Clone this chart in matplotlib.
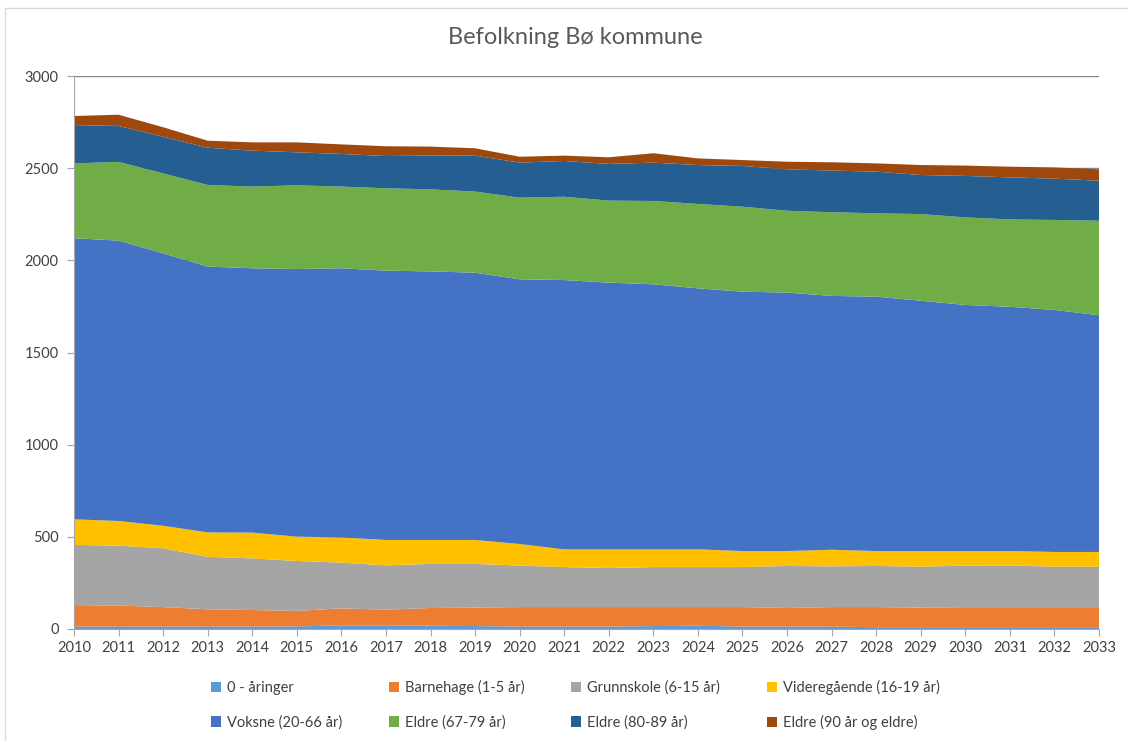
import matplotlib.pyplot as plt
import numpy as np
from matplotlib.patches import Patch, Rectangle

plt.rcParams['font.family'] = ['Lato', 'DejaVu Sans']

years = list(range(2010, 2034))

aaringer = [13, 13, 13, 13, 13, 14, 20, 20, 18, 16, 13, 13, 13, 16, 18, 13, 13, 13, 10, 10, 10, 10, 10, 10]
barnehage = [117, 114, 106, 94, 90, 84, 92, 85, 96, 100, 106, 106, 106, 103, 101, 106, 101, 106, 109, 106, 104, 104, 104, 104]
grunnskole = [326, 325, 319, 285, 280, 271, 248, 240, 239, 237, 225, 217, 212, 217, 217, 217, 228, 221, 223, 222, 230, 231, 224, 224]
videregaende = [139, 134, 122, 132, 140, 132, 137, 138, 130, 130, 117, 96, 101, 96, 96, 87, 81, 90, 81, 85, 79, 78, 80, 80]
voksne = [1525, 1521, 1478, 1442, 1434, 1452, 1460, 1461, 1457, 1450, 1436, 1461, 1447, 1438, 1416, 1407, 1402, 1377, 1380, 1358, 1335, 1325, 1313, 1284]
eldre_67 = [406, 427, 434, 443, 443, 454, 443, 447, 445, 440, 443, 452, 445, 452, 458, 461, 444, 454, 452, 470, 475, 474, 488, 513]
eldre_80 = [208, 195, 199, 202, 195, 179, 177, 175, 183, 195, 190, 194, 199, 208, 211, 221, 225, 226, 226, 212, 225, 228, 224, 217]
eldre_90 = [49, 61, 51, 38, 45, 54, 52, 53, 49, 40, 32, 29, 36, 51, 36, 32, 41, 45, 45, 54, 56, 58, 61, 62]

labels = ['0 - åringer', 'Barnehage (1-5 år)', 'Grunnskole (6-15 år)', 'Videregående (16-19 år)',
          'Voksne (20-66 år)', 'Eldre (67-79 år)', 'Eldre (80-89 år)', 'Eldre (90 år og eldre)']
colors = ['#5B9BD5', '#ED7D31', '#A5A5A5', '#FFC000', '#4472C4', '#70AD47', '#255E91', '#9E480E']

series = [aaringer, barnehage, grunnskole, videregaende, voksne, eldre_67, eldre_80, eldre_90]

fig = plt.figure(figsize=(11.28, 7.41), dpi=100)
ax = fig.add_axes([74 / 1128, 1 - 629 / 741, (1099 - 74) / 1128, (629 - 76) / 741])

ax.stackplot(years, *series, colors=colors, labels=labels, zorder=2)

ax.set_xlim(2010, 2033)
ax.set_ylim(0, 3000)
ax.set_xticks(years)
ax.set_yticks(range(0, 3001, 500))
ax.yaxis.grid(True, color='#888888', linewidth=1, zorder=0)
ax.set_axisbelow(True)
for s in ['top', 'right']:
    ax.spines[s].set_visible(False)
ax.spines['left'].set_color('#a6a6a6')
ax.spines['bottom'].set_color('#a6a6a6')
ax.tick_params(axis='both', colors='#a6a6a6', labelcolor='#404040', labelsize=10.5, length=5)
ax.tick_params(axis='y', pad=6)

fig.text(0.51, 1 - 38 / 741, 'Befolkning Bø kommune', ha='center', va='center',
         fontsize=17, color='#595959')

handles = [Patch(facecolor=c, label=l) for c, l in zip(colors, labels)]
order = [0, 4, 1, 5, 2, 6, 3, 7]
fig.legend([handles[i] for i in order], [labels[i] for i in order], ncol=4,
           loc='center', bbox_to_anchor=(0.51, 1 - 705 / 741), frameon=False,
           fontsize=10.5, handlelength=0.7, handleheight=0.7, handletextpad=0.4,
           columnspacing=3.2, labelspacing=1.4, labelcolor='#404040')

# chart frame
fig.patches.append(Rectangle((5 / 1128, -0.01), 1.1, 1 - 8 / 741 + 0.01, transform=fig.transFigure,
                             fill=False, edgecolor='#d9d9d9', linewidth=1))

fig.savefig('out.png', dpi=100)
